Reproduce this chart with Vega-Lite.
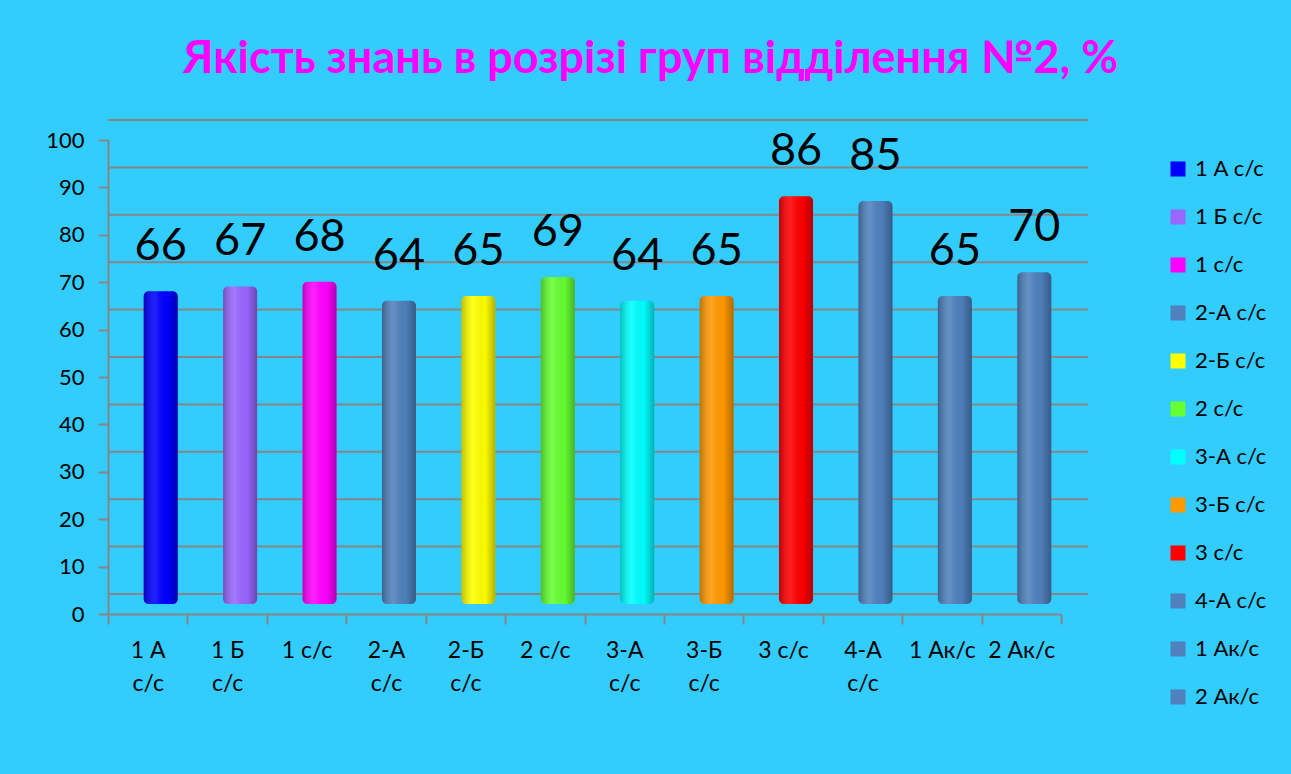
{
  "$schema": "https://vega.github.io/schema/vega-lite/v6.json",
  "width": 953,
  "height": 474,
  "autosize": {"type": "none"},
  "padding": {"left": 108, "top": 140, "right": 230, "bottom": 160},
  "background": "#33CCFF",
  "title": {
    "text": "Якість знань в розрізі груп відділення №2, %",
    "color": "#FF00FF",
    "font": "Lato",
    "fontSize": 45,
    "fontWeight": "bold",
    "anchor": "middle",
    "dx": 66,
    "offset": 37
  },
  "config": {
    "view": {"stroke": null},
    "font": "Lato"
  },
  "data": {
    "values": [
      {"group": "1 А с/с", "value": 66},
      {"group": "1 Б с/с", "value": 67},
      {"group": "1 с/с", "value": 68},
      {"group": "2-А с/с", "value": 64},
      {"group": "2-Б с/с", "value": 65},
      {"group": "2 с/с", "value": 69},
      {"group": "3-А с/с", "value": 64},
      {"group": "3-Б с/с", "value": 65},
      {"group": "3 с/с", "value": 86},
      {"group": "4-А с/с", "value": 85},
      {"group": "1 Ак/с", "value": 65},
      {"group": "2 Ак/с", "value": 70}
    ]
  },
  "layer": [
    {
      "data": {"values": [{"v": 0}, {"v": 10}, {"v": 20}, {"v": 30}, {"v": 40}, {"v": 50}, {"v": 60}, {"v": 70}, {"v": 80}, {"v": 90}, {"v": 100}]},
      "mark": {"type": "rule", "color": "#868686", "strokeWidth": 2, "xOffset": 27, "yOffset": -20},
      "encoding": {
        "y": {
          "field": "v",
          "type": "quantitative",
          "scale": {"domain": [0, 100]},
          "axis": {
            "title": null,
            "values": [0, 10, 20, 30, 40, 50, 60, 70, 80, 90, 100],
            "grid": false,
            "domainColor": "#868686",
            "domainWidth": 2,
            "tickColor": "#868686",
            "tickWidth": 2,
            "tickSize": 10,
            "labelFont": "Lato",
            "labelFontSize": 22,
            "labelColor": "#000000",
            "labelPadding": 14
          }
        }
      }
    },
    {
      "mark": {"type": "bar", "width": 34, "xOffset": 13, "yOffset": -10, "y2Offset": -10, "cornerRadius": 5},
      "encoding": {
        "x": {
          "field": "group",
          "type": "nominal",
          "sort": null,
          "scale": {"paddingInner": 0, "paddingOuter": 0},
          "axis": {
            "title": null,
            "labelAngle": 0,
            "domainColor": "#868686",
            "domainWidth": 2,
            "tickColor": "#868686",
            "tickWidth": 2,
            "tickSize": 10,
            "tickBand": "extent",
            "labelFont": "Lato",
            "labelFontSize": 23,
            "labelColor": "#000000",
            "labelPadding": 15,
            "labelLineHeight": 33,
            "labelExpr": "length(datum.label) > 5 && indexof(datum.label, 'Ак') < 0 ? [substring(datum.label, 0, length(datum.label) - 4), 'с/с'] : datum.label"
          }
        },
        "y": {
          "field": "value",
          "type": "quantitative",
          "stack": null,
          "scale": {"domain": [0, 100]}
        },
        "y2": {"datum": 0},
        "color": {
          "field": "group",
          "type": "nominal",
          "sort": null,
          "scale": {
            "domain": ["1 А с/с", "1 Б с/с", "1 с/с", "2-А с/с", "2-Б с/с", "2 с/с", "3-А с/с", "3-Б с/с", "3 с/с", "4-А с/с", "1 Ак/с", "2 Ак/с"],
            "range": ["#0000FF", "#9966FF", "#FF00FF", "#4F81BD", "#FFFF00", "#66FF33", "#00FFFF", "#FF9900", "#FF0000", "#4F81BD", "#4F81BD", "#4F81BD"]
          },
          "legend": {
            "title": null,
            "orient": "none",
            "legendX": 1059,
            "legendY": 18,
            "padding": 0,
            "symbolType": "square",
            "symbolSize": 225,
            "symbolStrokeWidth": 0,
            "labelFont": "Lato",
            "labelFontSize": 22,
            "labelColor": "#000000",
            "labelOffset": 6,
            "rowPadding": 26
          }
        }
      }
    },
    {
      "mark": {
        "type": "bar",
        "width": 34,
        "xOffset": 13,
        "yOffset": -10,
        "y2Offset": -10,
        "cornerRadius": 5,
        "fill": {
          "gradient": "linear",
          "x1": 0, "y1": 0, "x2": 1, "y2": 0,
          "stops": [
            {"offset": 0, "color": "rgba(0,0,0,0.25)"},
            {"offset": 0.35, "color": "rgba(255,255,255,0.12)"},
            {"offset": 0.7, "color": "rgba(0,0,0,0.02)"},
            {"offset": 1, "color": "rgba(0,0,0,0.3)"}
          ]
        }
      },
      "encoding": {
        "x": {"field": "group", "type": "nominal", "sort": null},
        "y": {"field": "value", "type": "quantitative", "stack": null},
        "y2": {"datum": 0}
      }
    },
    {
      "mark": {"type": "text", "font": "Lato", "fontSize": 45, "color": "#000000", "baseline": "alphabetic", "dy": -41, "xOffset": 13},
      "encoding": {
        "x": {"field": "group", "type": "nominal", "sort": null},
        "y": {"field": "value", "type": "quantitative"},
        "text": {"field": "value", "type": "quantitative"}
      }
    }
  ]
}
